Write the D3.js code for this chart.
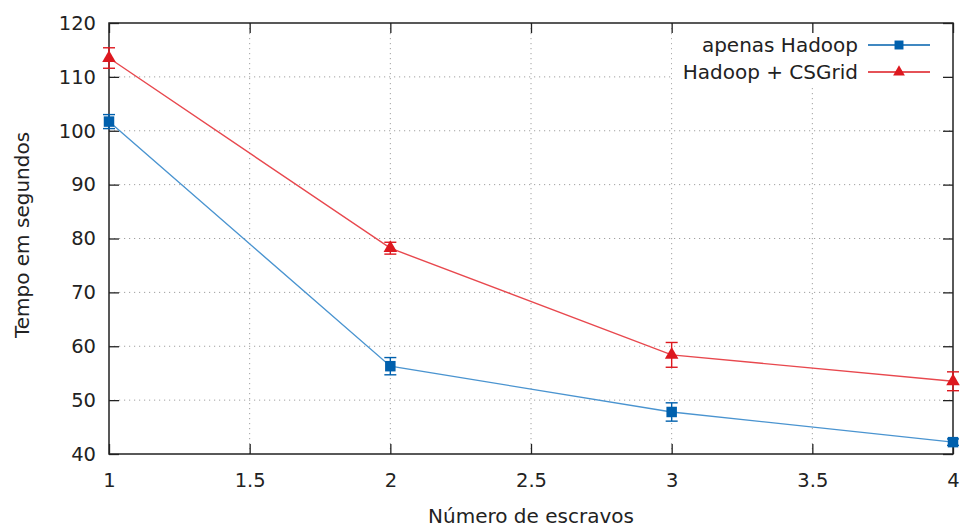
<!DOCTYPE html>
<html lang="pt">
<head>
<meta charset="UTF-8">
<title>Tempo vs escravos</title>
<script src="https://d3js.org/d3.v7.min.js"></script>
<style>
    body { margin: 0; background: #fff; }
    svg { display: block; font-family: "DejaVu Sans", sans-serif; }
</style>
</head>
<body>
<svg width="963" height="529"></svg>
<script>
    // data
    const slaves = [1, 2, 3, 4];
    const hadoopOnly = [101.7, 56.3, 47.8, 42.2];
    const hadoopOnlyErr = [1.3, 1.6, 1.7, 0.6];
    const hadoopCSGrid = [113.5, 78.2, 58.4, 53.5];
    const hadoopCSGridErr = [1.9, 1.1, 2.3, 1.75];
    const xTicks = [1, 1.5, 2, 2.5, 3, 3.5, 4];
    const yTicks = [40, 50, 60, 70, 80, 90, 100, 110, 120];
    const seriesNames = ["apenas Hadoop", "Hadoop + CSGrid"];

    const svg = d3.select("svg");
    const pLeft = 109, pRight = 953, pTop = 23, pBottom = 454;
    const fs = 19.5;

    const x = d3.scaleLinear().domain([1, 4]).range([pLeft, pRight]);
    const y = d3.scaleLinear().domain([40, 120]).range([pBottom, pTop]);

    // grid
    const grid = svg.append("g").attr("stroke", "#a0a0a0").attr("stroke-dasharray", "1.2,3.8");
    grid.selectAll(".gx").data(xTicks.slice(1, -1)).enter().append("line")
        .attr("x1", d => x(d)).attr("x2", d => x(d)).attr("y1", pTop).attr("y2", pBottom);
    grid.selectAll(".gy").data(yTicks.slice(1, -1)).enter().append("line")
        .attr("y1", d => y(d)).attr("y2", d => y(d)).attr("x1", pLeft).attr("x2", pRight);

    // key area hides the grid
    svg.append("rect").attr("x", 672).attr("y", 28).attr("width", 278).attr("height", 57).attr("fill", "#fff");

    // axes (ticks inward, mirrored)
    const tl = 10;
    const axB = svg.append("g").attr("transform", `translate(0,${pBottom})`)
        .call(d3.axisBottom(x).tickValues(xTicks).tickSize(-tl).tickPadding(19).tickFormat(d3.format("")));
    const axT = svg.append("g").attr("transform", `translate(0,${pTop})`)
        .call(d3.axisTop(x).tickValues(xTicks).tickSize(-tl).tickFormat(""));
    const axL = svg.append("g").attr("transform", `translate(${pLeft},0)`)
        .call(d3.axisLeft(y).tickValues(yTicks).tickSize(-tl).tickPadding(13));
    const axR = svg.append("g").attr("transform", `translate(${pRight},0)`)
        .call(d3.axisRight(y).tickValues(yTicks).tickSize(-tl).tickFormat(""));
    [axB, axT, axL, axR].forEach(a => {
        a.select(".domain").remove();
        a.selectAll("line").attr("stroke", "#222").attr("stroke-width", 1.3);
        a.selectAll("text").attr("font-size", fs).attr("fill", "#222")
            .attr("font-family", "DejaVu Sans, sans-serif");
    });
    svg.append("rect").attr("x", pLeft).attr("y", pTop).attr("width", pRight - pLeft).attr("height", pBottom - pTop)
        .attr("fill", "none").attr("stroke", "#222").attr("stroke-width", 1.5);

    // axis titles
    svg.append("text").attr("x", 531).attr("y", 523).attr("text-anchor", "middle")
        .attr("font-size", 20).attr("fill", "#222").text("Número de escravos");
    svg.append("text").attr("transform", `translate(29,235) rotate(-90)`)
        .attr("text-anchor", "middle").attr("font-size", 20).attr("fill", "#222").text("Tempo em segundos");

    const series = [
        { name: seriesNames[0], vals: hadoopOnly, err: hadoopOnlyErr, mark: "#0060ad", line: "#4a94d0", sym: d3.symbolSquare },
        { name: seriesNames[1], vals: hadoopCSGrid, err: hadoopCSGridErr, mark: "#dd181f", line: "#e8484e", sym: d3.symbolTriangle }
    ];

    const line = d3.line().x(d => x(d[0])).y(d => y(d[1]));

    series.forEach(s => {
        const pts = slaves.map((v, i) => [v, s.vals[i], s.err[i]]);
        const g = svg.append("g");
        g.append("path").datum(pts).attr("d", line).attr("fill", "none")
            .attr("stroke", s.line).attr("stroke-width", 1.4);
        // error bars
        const eb = g.selectAll(".eb").data(pts).enter().append("g").attr("stroke", s.mark).attr("stroke-width", 1.4);
        eb.append("line").attr("x1", d => x(d[0])).attr("x2", d => x(d[0]))
            .attr("y1", d => y(d[1] - d[2])).attr("y2", d => y(d[1] + d[2]));
        eb.append("line").attr("x1", d => x(d[0]) - 6).attr("x2", d => x(d[0]) + 6)
            .attr("y1", d => y(d[1] - d[2])).attr("y2", d => y(d[1] - d[2]));
        eb.append("line").attr("x1", d => x(d[0]) - 6).attr("x2", d => x(d[0]) + 6)
            .attr("y1", d => y(d[1] + d[2])).attr("y2", d => y(d[1] + d[2]));
        g.selectAll(".pt").data(pts).enter().append("path")
            .attr("d", d3.symbol().type(s.sym).size(s.sym === d3.symbolSquare ? 110 : 80))
            .attr("transform", d => `translate(${x(d[0])},${y(d[1])})`)
            .attr("fill", s.mark);
    });

    // key
    series.forEach((s, i) => {
        const ky = 45 + i * 27;
        svg.append("text").attr("x", 858).attr("y", ky + 7).attr("text-anchor", "end")
            .attr("font-size", 20).attr("fill", "#222").text(s.name);
        svg.append("line").attr("x1", 868).attr("x2", 930).attr("y1", ky).attr("y2", ky)
            .attr("stroke", s.mark).attr("stroke-width", 1.4);
        svg.append("path").attr("d", d3.symbol().type(s.sym).size(s.sym === d3.symbolSquare ? 80 : 60))
            .attr("transform", `translate(899,${ky})`).attr("fill", s.mark);
    });
</script>
</body>
</html>
